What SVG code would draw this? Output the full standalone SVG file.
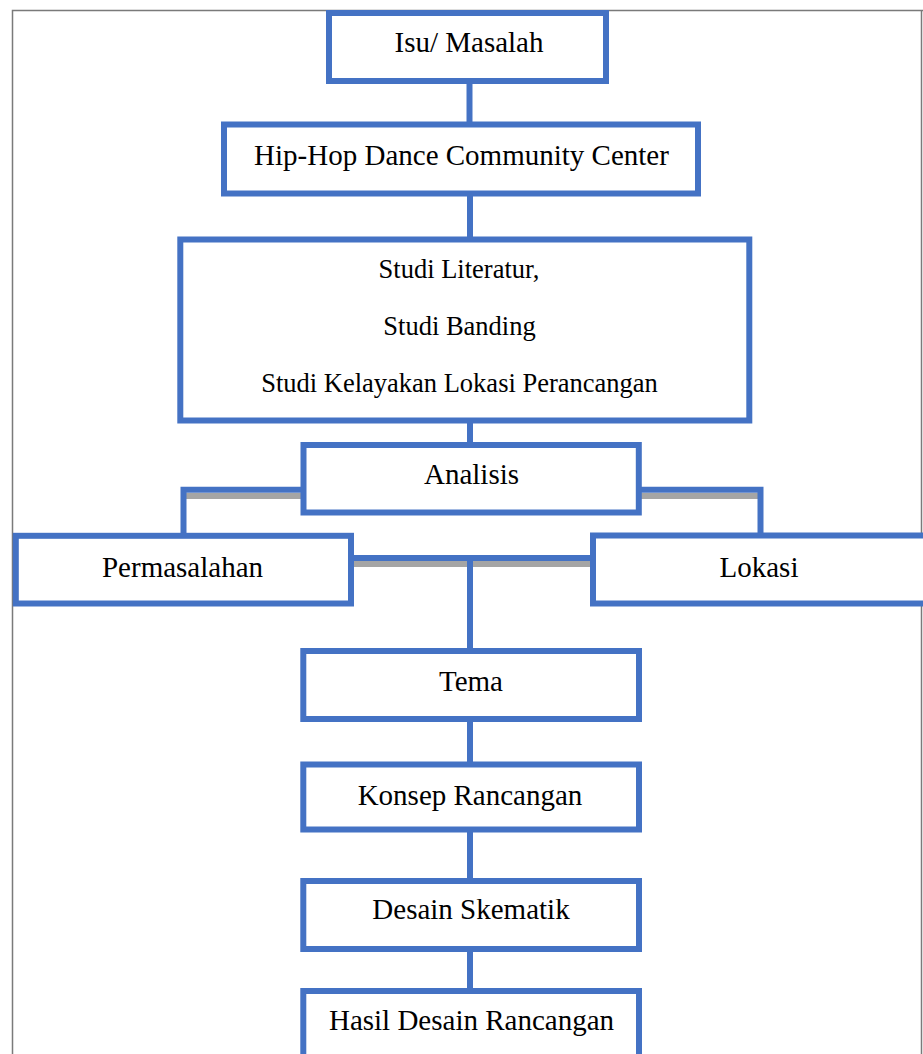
<svg xmlns="http://www.w3.org/2000/svg" width="923" height="1054" viewBox="0 0 923 1054">
<style>
.box{fill:#ffffff;stroke:#4472C4;stroke-width:6}
.lbl{font-family:"Liberation Serif","Times New Roman",serif;font-size:29px;fill:#000;text-anchor:middle}
.lbl2{font-family:"Liberation Serif","Times New Roman",serif;font-size:26.5px;fill:#000;text-anchor:middle}
.con{fill:none;stroke:#4472C4;stroke-width:6}
.sh{fill:none;stroke:#A5A5A5;stroke-width:6}
.frame{fill:none;stroke:#7a7a7a;stroke-width:1.5}
</style>
<rect width="923" height="1054" fill="#ffffff"/>
<path class="frame" d="M12.5,1054 V10.5 H923"/>
<line class="frame" x1="921.5" y1="10.5" x2="921.5" y2="1054" stroke="#cfcfcf"/>
<g id="connectors">
  <line class="sh" x1="186" y1="496" x2="303" y2="496"/>
  <line class="sh" x1="641" y1="496" x2="760" y2="496"/>
  <line class="sh" x1="354" y1="564" x2="590" y2="564"/>
  <line class="con" x1="469.5" y1="83" x2="469.5" y2="122"/>
  <line class="con" x1="470" y1="196" x2="470" y2="237"/>
  <line class="con" x1="470" y1="423" x2="470" y2="443"/>
  <polyline class="con" points="303,489.7 183.5,489.7 183.5,533"/>
  <polyline class="con" points="639,489.7 760.5,489.7 760.5,533"/>
  <line class="con" x1="351" y1="558" x2="593" y2="558"/>
  <line class="con" x1="470" y1="558" x2="470" y2="649"/>
  <line class="con" x1="470" y1="721" x2="470" y2="762"/>
  <line class="con" x1="470" y1="832" x2="470" y2="879"/>
  <line class="con" x1="470" y1="951" x2="470" y2="989"/>
</g>
<g id="n-isu">
  <rect class="box" x="329" y="13" width="277" height="68"/>
  <text class="lbl" x="469" y="52">Isu/ Masalah</text>
</g>
<g id="n-hiphop">
  <rect class="box" x="224" y="124.5" width="474" height="69"/>
  <text class="lbl" x="461.5" y="165">Hip-Hop Dance Community Center</text>
</g>
<g id="n-studi">
  <rect class="box" x="180.3" y="239.5" width="569" height="181"/>
  <text class="lbl2" x="459" y="278">Studi Literatur,</text>
  <text class="lbl2" x="459.5" y="335">Studi Banding</text>
  <text class="lbl2" x="459.5" y="392">Studi Kelayakan Lokasi Perancangan</text>
</g>
<g id="n-analisis">
  <rect class="box" x="303.5" y="445" width="335.3" height="67.5"/>
  <text class="lbl" x="471.5" y="484">Analisis</text>
</g>
<g id="n-permasalahan">
  <rect class="box" x="15.8" y="535.8" width="335.2" height="67.7"/>
  <text class="lbl" x="182.5" y="577">Permasalahan</text>
</g>
<g id="n-lokasi">
  <rect class="box" x="593" y="535.5" width="340" height="68"/>
  <text class="lbl" x="759" y="577">Lokasi</text>
</g>
<g id="n-tema">
  <rect class="box" x="303.3" y="651" width="335.7" height="68"/>
  <text class="lbl" x="471" y="691">Tema</text>
</g>
<g id="n-konsep">
  <rect class="box" x="303.3" y="764.5" width="335.7" height="65"/>
  <text class="lbl" x="470" y="805">Konsep Rancangan</text>
</g>
<g id="n-desain">
  <rect class="box" x="303.3" y="881" width="335.7" height="68"/>
  <text class="lbl" x="471" y="919">Desain Skematik</text>
</g>
<g id="n-hasil">
  <rect class="box" x="303.3" y="991" width="335.7" height="100"/>
  <text class="lbl" x="471.5" y="1030">Hasil Desain Rancangan</text>
</g>
</svg>
